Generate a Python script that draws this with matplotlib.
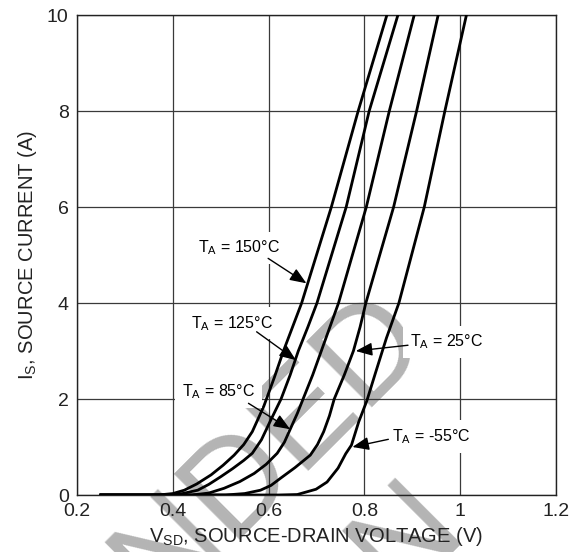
import matplotlib
matplotlib.use('Agg')
import matplotlib.pyplot as plt

plt.rcParams['font.family'] = ['Liberation Sans', 'DejaVu Sans']
plt.rcParams['mathtext.default'] = 'regular'

# source-drain diode curves, one per ambient temperature
vsd_150 = [0.25, 0.37, 0.40, 0.424, 0.45, 0.48, 0.505, 0.528, 0.548, 0.566, 0.59, 0.612,
           0.631, 0.65, 0.669, 0.731, 0.787, 0.847]
is_150 = [0, 0, 0.03, 0.1, 0.23, 0.42, 0.62, 0.83, 1.05, 1.32, 1.85, 2.45,
          3.0, 3.5, 4.0, 6.0, 8.0, 10.0]

vsd_125 = [0.25, 0.39, 0.42, 0.452, 0.475, 0.50, 0.525, 0.548, 0.566, 0.585, 0.604, 0.626,
           0.645, 0.662, 0.682, 0.701, 0.762, 0.810, 0.870]
is_125 = [0, 0, 0.03, 0.1, 0.22, 0.38, 0.55, 0.72, 0.87, 1.15, 1.55, 2.0,
          2.5, 3.0, 3.5, 4.0, 6.0, 8.0, 10.0]

vsd_85 = [0.25, 0.44, 0.475, 0.507, 0.54, 0.570, 0.595, 0.618, 0.633, 0.646, 0.66, 0.672,
          0.692, 0.710, 0.728, 0.746, 0.804, 0.852, 0.904]
is_85 = [0, 0, 0.04, 0.14, 0.28, 0.45, 0.64, 0.87, 1.1, 1.39, 1.7, 2.0,
         2.5, 3.0, 3.5, 4.0, 6.0, 8.0, 10.0]

vsd_25 = [0.25, 0.51, 0.55, 0.583, 0.605, 0.625, 0.655, 0.687, 0.702, 0.715, 0.727, 0.737,
          0.758, 0.777, 0.791, 0.803, 0.861, 0.909, 0.954]
is_25 = [0, 0, 0.03, 0.1, 0.2, 0.35, 0.57, 0.83, 1.05, 1.32, 1.65, 2.0,
         2.5, 3.0, 3.5, 4.0, 6.0, 8.0, 10.0]

vsd_m55 = [0.25, 0.62, 0.66, 0.699, 0.722, 0.745, 0.761, 0.773, 0.788, 0.805, 0.823, 0.846,
           0.872, 0.925, 0.968, 1.013]
is_m55 = [0, 0, 0.01, 0.12, 0.27, 0.56, 0.86, 1.04, 1.52, 1.96, 2.54, 3.27,
          4.0, 6.0, 8.0, 10.0]

curves = [(vsd_150, is_150), (vsd_125, is_125), (vsd_85, is_85),
          (vsd_25, is_25), (vsd_m55, is_m55)]

# label text, text position, arrow tail, arrow tip
labels = ['150', '125', '85', '25', '-55']
label_xy = [(0.453, 5.15), (0.439, 3.58), (0.419, 2.15), (0.895, 3.19), (0.858, 1.22)]
arrow_tail = [(0.599, 4.93), (0.575, 3.40), (0.558, 1.91), (0.891, 3.12), (0.850, 1.16)]
arrow_tip = [(0.679, 4.41), (0.657, 2.81), (0.645, 1.37), (0.782, 3.0), (0.775, 1.0)]

xticks = [0.2, 0.4, 0.6, 0.8, 1.0, 1.2]
xticklabels = ['0.2', '0.4', '0.6', '0.8', '1', '1.2']
yticks = [0, 2, 4, 6, 8, 10]

stamp_lines = ['NOT RECOMMENDED', 'FOR NEW DESIGN']

fig = plt.figure(figsize=(5.84, 5.52), dpi=100)
ax = fig.add_axes([77 / 584, 57 / 552, 479 / 584, 480 / 552])

ax.set_xlim(0.2, 1.2)
ax.set_ylim(0, 10)
ax.set_xticks(xticks)
ax.set_xticklabels(xticklabels)
ax.set_yticks(yticks)
ax.tick_params(length=0, labelsize=14, colors='#222222')
ax.tick_params(axis='x', pad=6)
ax.tick_params(axis='y', pad=6)
ax.set_axisbelow(True)
ax.grid(True, color='#3a3a3a', lw=0.9)
for sp in ax.spines.values():
    sp.set_color('#222222')
    sp.set_linewidth(1.0)

ax.set_xlabel('$V_{SD}$, SOURCE-DRAIN VOLTAGE (V)', fontsize=14.5, color='#222222', labelpad=3)
ax.set_ylabel('$I_S$, SOURCE CURRENT (A)', fontsize=14.5, color='#222222', labelpad=6)

# background stamp, two diagonal lines ending near the lower middle
ax.text(434 / 584, 1 - 346 / 552, stamp_lines[0], transform=fig.transFigure,
        rotation=45, rotation_mode='anchor', ha='right', va='baseline',
        fontsize=97, color='#b4b4b4', zorder=0.4, clip_on=False)
ax.text(470 / 584, 1 - 536 / 552, stamp_lines[1], transform=fig.transFigure,
        rotation=45, rotation_mode='anchor', ha='right', va='baseline',
        fontsize=97, color='#b4b4b4', zorder=0.4, clip_on=False)

for v, i in curves:
    ax.plot(v, i, color='black', lw=2.0, zorder=3, solid_joinstyle='round')

for lab, xy, tail, tip in zip(labels, label_xy, arrow_tail, arrow_tip):
    ax.text(xy[0], xy[1], '$T_A$ = ' + lab + '°C', fontsize=11.5, ha='left', va='center',
            zorder=5, bbox=dict(facecolor='white', edgecolor='none', pad=5))
    ax.annotate('', xy=tip, xytext=tail, zorder=6,
                arrowprops=dict(arrowstyle='-|>,head_length=1.0,head_width=0.4',
                                color='black', lw=1.0, shrinkA=0, shrinkB=0))

fig.savefig('out.png', dpi=100)
